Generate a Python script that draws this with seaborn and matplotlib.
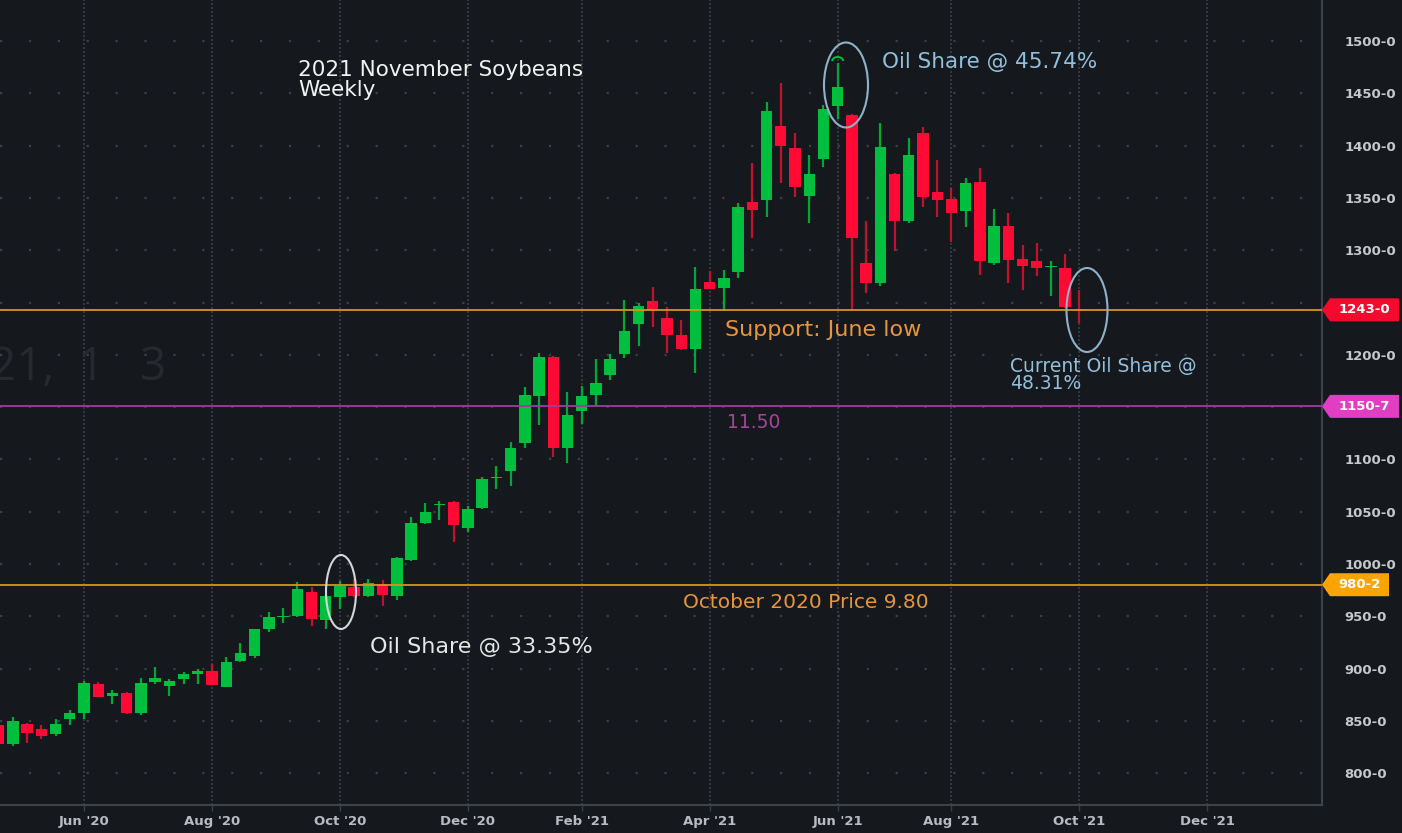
import numpy as np
import pandas as pd
import matplotlib
matplotlib.use("Agg")
import matplotlib.pyplot as plt
import matplotlib.dates as mdates
import matplotlib.transforms as mtransforms
from matplotlib.patches import Ellipse, Polygon, Arc
import seaborn as sns

# weekly candles, Nov 2021 soybeans (cents/bu)
weeks = pd.date_range("2020-04-20", periods=77, freq="7D")
opens = [846, 828, 847, 842, 837, 852, 858, 885, 874, 877, 858, 887, 883, 890, 895, 898,
         882, 907, 912, 938, 949, 950, 973, 946, 968, 978, 969, 981, 969, 1004, 1039, 1056,
         1059, 1034, 1054, 1082, 1089, 1116, 1161, 1198, 1111, 1146, 1162, 1181, 1201, 1229,
         1251, 1235, 1219, 1206, 1270, 1264, 1279, 1346, 1348, 1419, 1398, 1352, 1387, 1438,
         1429, 1288, 1269, 1373, 1328, 1412, 1356, 1349, 1337, 1365, 1288, 1323, 1292, 1290,
         1283.5, 1283, 1244]
highs = [850, 854, 848, 846, 852, 860, 888, 887, 880, 878, 891, 902, 890, 897, 900, 904,
         911, 924, 938, 954, 958, 983, 978, 970, 984, 986, 986, 985, 1007, 1045, 1058, 1060,
         1060, 1055, 1083, 1094, 1117, 1169, 1202, 1199, 1164, 1170, 1196, 1201, 1252, 1250,
         1265, 1246, 1233, 1284, 1280, 1281, 1345, 1383, 1442, 1460, 1412, 1391, 1439, 1479,
         1430, 1328, 1422, 1374, 1407, 1418, 1386, 1359, 1369, 1379, 1339, 1336, 1305, 1307,
         1290, 1296, 1262]
lows = [824, 826, 829, 833, 836, 846, 852, 873, 866, 857, 856, 885, 874, 885, 885, 884,
        882, 906, 910, 935, 944, 949, 941, 938, 957, 968, 968, 960, 966, 1003, 1038, 1042,
        1021, 1031, 1053, 1072, 1075, 1111, 1133, 1102, 1097, 1134, 1151, 1176, 1197, 1208,
        1227, 1202, 1205, 1183, 1263, 1242, 1273, 1312, 1332, 1364, 1351, 1326, 1380, 1425,
        1243, 1259, 1266, 1299, 1326, 1341, 1332, 1308, 1322, 1276, 1286, 1269, 1262, 1275,
        1256, 1245, 1230]
closes = [828, 850, 838, 836, 847, 858, 886, 873, 877, 858, 886, 891, 888, 895, 898, 884,
          906, 915, 938, 949, 950, 976, 947, 969, 979, 969, 982, 970, 1006, 1039, 1050, 1057,
          1037, 1053, 1081, 1083, 1111, 1162, 1198, 1111, 1142, 1161, 1173, 1196, 1223, 1247,
          1243, 1219, 1206, 1263, 1263, 1273, 1341, 1338, 1433, 1400, 1360, 1373, 1435, 1456,
          1312, 1269, 1399, 1328, 1391, 1351, 1348, 1336, 1364, 1290, 1323, 1291, 1285, 1283,
          1284.5, 1246, 1243]

tick_dates = ["2020-06-01", "2020-08-03", "2020-10-05", "2020-12-07", "2021-02-01",
              "2021-04-05", "2021-06-07", "2021-08-02", "2021-10-04", "2021-12-06"]
tick_labels = ["Jun '20", "Aug '20", "Oct '20", "Dec '20", "Feb '21",
               "Apr '21", "Jun '21", "Aug '21", "Oct '21", "Dec '21"]
price_ticks = list(range(800, 1501, 50))

support_level = 1243.0
purple_level = 1150.7
oct_level = 980.2

BG = "#15191d"
GREEN, GREEN_WICK = "#00bf3f", "#00a838"
RED, RED_WICK = "#ff0a34", "#c0122e"
GRID = "#3a3f48"
ORANGE_LINE = "#d4941c"
ORANGE_TXT = "#e8953c"
MAGENTA_LINE = "#a33a9c"
BLUE_TXT = "#93bfdc"
WIDE = ["DejaVu Sans"]

sns.set_theme(style="dark", rc={"axes.facecolor": BG, "figure.facecolor": BG})
plt.rcParams["font.family"] = ["Open Sans", "DejaVu Sans"]

W, H = 1402, 833
AX_W, AX_H = 1322, 805
fig = plt.figure(figsize=(W / 100, H / 100), dpi=100, facecolor=BG)
ax = fig.add_axes([0, 1 - AX_H / H, AX_W / W, AX_H / H])
ax.set_facecolor(BG)

x = mdates.date2num(weeks)
o = np.array(opens, dtype=float)
c = np.array(closes, dtype=float)
up = c >= o
body_lo = np.minimum(o, c)
body_h = np.maximum(np.abs(c - o), 1.2)

ax.vlines(x, lows, highs, colors=np.where(up, GREEN_WICK, RED_WICK), lw=1.6, zorder=2)
ax.bar(x, body_h, bottom=body_lo, width=5.6, color=np.where(up, GREEN, RED),
       linewidth=0, zorder=3)

ax.axhline(support_level, color=ORANGE_LINE, lw=1.3, zorder=4)
ax.axhline(purple_level, color=MAGENTA_LINE, lw=1.3, zorder=4)
ax.axhline(oct_level, color=ORANGE_LINE, lw=1.3, zorder=4)

# axis ranges (pixel calibration: Jun 1 2020 at x=84, 2.031 px/day; 1.046 px/cent)
x0 = mdates.date2num(pd.Timestamp("2020-06-01"))
ax.set_xlim(x0 - 84 / 2.0314, x0 + (AX_W - 84) / 2.0314)
ax.set_ylim(1500 - (AX_H - 41) / 1.046, 1500 + 41 / 1.046)

ax.set_xticks(mdates.date2num(pd.to_datetime(tick_dates)))
ax.set_xticklabels(tick_labels)
ax.set_yticks(price_ticks)
# the 1150 label sits fully under the magenta price tag
ax.set_yticklabels(["" if v == 1150 else f"{v}-0" for v in price_ticks])
ax.yaxis.tick_right()
ax.tick_params(axis="y", length=0, pad=16, labelsize=9.5, labelcolor="#c5c8cc")
ax.tick_params(axis="x", length=4, width=1, color=GRID, pad=3, labelsize=9.5,
               labelcolor="#b8bcc2", bottom=True)
for lab in ax.get_yticklabels() + ax.get_xticklabels():
    lab.set_family(WIDE)
    lab.set_fontweight("bold")

ax.grid(True, axis="x", color=GRID, lw=1.2, ls=(0, (1.2, 1.2)))
ax.grid(True, axis="y", color=GRID, lw=1.6, ls=(0, (1, 12)))
ax.set_axisbelow(True)
for side in ["left", "top"]:
    ax.spines[side].set_visible(False)
for side in ["right", "bottom"]:
    ax.spines[side].set_visible(True)
    ax.spines[side].set_color("#3b434d")
    ax.spines[side].set_linewidth(1.5)

# price tags on the right scale
trans = mtransforms.blended_transform_factory(ax.transAxes, ax.transData)
half = 11.5 / 1.046


def price_tag(level, text, color, right=1399):
    pts = [(1.0, level), (1330 / AX_W, level + half), (right / AX_W, level + half),
           (right / AX_W, level - half), (1330 / AX_W, level - half)]
    ax.add_patch(Polygon(pts, closed=True, transform=trans, clip_on=False,
                         facecolor=color, edgecolor="none", zorder=6))
    ax.text((1330 + right) / 2 / AX_W, level, text, transform=trans, ha="center",
            va="center", color="white", fontsize=9.5, fontweight="bold", family=WIDE,
            clip_on=False, zorder=7)


price_tag(support_level, "1243-0", "#f50a2e")
price_tag(purple_level, "1150-7", "#e23ec4")
price_tag(oct_level, "980-2", "#f9a400", right=1389)


def px(xp, yp):
    return xp / AX_W, 1 - yp / AX_H


def note(xp, yp, s, color, size, family=WIDE, va="baseline"):
    ax.text(*px(xp, yp), s, transform=ax.transAxes, color=color, fontsize=size,
            va=va, ha="left", family=family, zorder=8)


# faint background text
note(-10, 368, "21,  1   3", "#262a2f", 33, family=["Open Sans"], va="center")

note(298, 76, "2021 November Soybeans", "#f2f2f2", 15.5)
note(298, 96, "Weekly", "#f2f2f2", 15.5)
note(882, 68, "Oil Share @ 45.74%", BLUE_TXT, 15.5)
note(725, 336, "Support: June low", ORANGE_TXT, 16)
note(1010, 372, "Current Oil Share @", BLUE_TXT, 13.5)
note(1010, 389, "48.31%", BLUE_TXT, 13.5)
note(727, 428, "11.50", "#a8449c", 13.5)
note(683, 608, "October 2020 Price 9.80", ORANGE_TXT, 14.5)
note(370, 653, "Oil Share @ 33.35%", "#e6e6e6", 16)

# circled candles
day = 1 / 2.0314
cent = 1 / 1.046
ax.add_patch(Ellipse((x0 + (341 - 84) * day, 1500 - (592 - 41) * cent), 30 * day, 74 * cent,
                     fill=False, edgecolor="#d6d6d6", lw=1.5, zorder=5))
ax.add_patch(Ellipse((x0 + (846 - 84) * day, 1500 - (85 - 41) * cent), 44 * day, 85 * cent,
                     fill=False, edgecolor="#8fb1c9", lw=1.5, zorder=5))
ax.add_patch(Ellipse((x0 + (1087 - 84) * day, 1500 - (310 - 41) * cent), 41 * day, 84 * cent,
                     fill=False, edgecolor="#8fb1c9", lw=1.5, zorder=5))
ax.add_patch(Arc((x[59], 1500 - (61 - 41) * cent), 11 * day, 8 * cent, theta1=0, theta2=180,
                 edgecolor=GREEN, lw=1.4, zorder=5))

fig.savefig("out.png", dpi=100, facecolor=BG)
